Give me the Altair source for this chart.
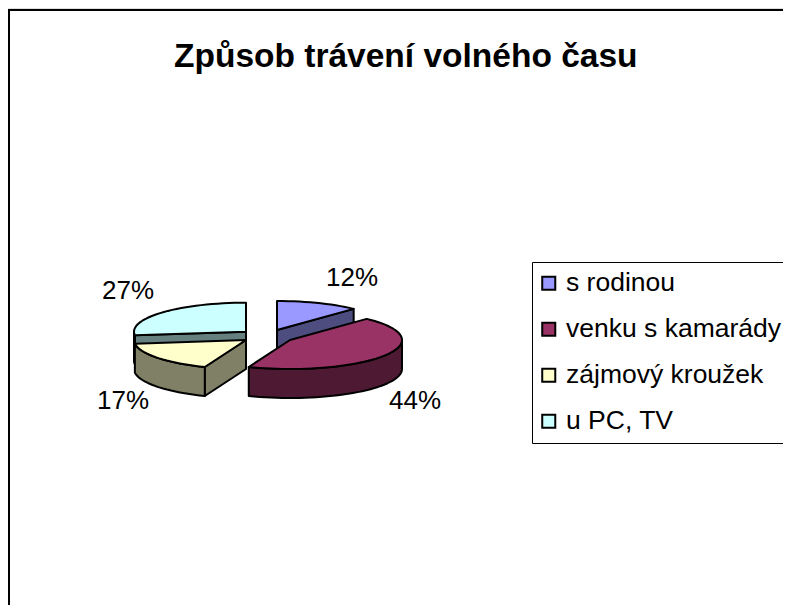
import math
import altair as alt

categories = ["s rodinou", "venku s kamarády", "zájmový kroužek", "u PC, TV"]
percent = [12, 44, 17, 27]
top_colors = ["#9999FF", "#993366", "#FFFFCC", "#CCFFFF"]
side_colors = ["#4D4D80", "#4D1933", "#808066", "#668080"]

W, H = 775, 597
OX, OY = 8, 8
RX, RY, DEPTH = 112, 29, 29
APEX = [(277, 330), (290, 340), (246, 340), (246, 331.7)]
LABEL_POS = [(352, 278), (415, 401), (123, 401), (128, 291)]
PAINT_ORDER = [0, 3, 2, 1]
SIDE_EDGE = {0: "end", 2: "start", 3: "start"}

starts, acc = [], 0
for p in percent:
    starts.append(acc)
    acc += p
ang = lambda pct: pct * 3.6


def pt(i, deg, dz=0):
    ax, ay = APEX[i]
    r = math.radians(deg)
    return [ax + RX * math.sin(r) - OX, ay - RY * math.cos(r) + dz - OY]


def arc(i, a0, a1, dz=0):
    n = max(2, int(abs(a1 - a0) / 3) + 2)
    return [pt(i, a0 + (a1 - a0) * k / (n - 1), dz) for k in range(n)]


def feature(key, ring):
    ring = ring + [ring[0]]
    return {"type": "Feature", "properties": {"key": key},
            "geometry": {"type": "Polygon", "coordinates": [ring]}}


features = []
for i in PAINT_ORDER:
    a0, a1 = ang(starts[i]), ang(starts[i] + percent[i])
    side = categories[i] + " (bok)"
    apex = [APEX[i][0] - OX, APEX[i][1] - OY]
    apex_low = [apex[0], apex[1] + DEPTH]
    if i in SIDE_EDGE:
        e = a1 if SIDE_EDGE[i] == "end" else a0
        features.append(feature(side, [apex, pt(i, e), pt(i, e, DEPTH), apex_low]))
    f0, f1 = max(a0, 90), min(a1, 270)
    if f0 < f1:
        features.append(feature(side, arc(i, f0, f1) + arc(i, f1, f0, DEPTH)))
    features.append(feature(categories[i], [apex] + arc(i, a0, a1)))

geo = alt.Data(values=features)

pie = alt.Chart(geo).mark_geoshape(stroke="black", strokeWidth=2, strokeJoin="round").encode(
    color=alt.Color(
        "properties.key:N",
        scale=alt.Scale(domain=categories + [c + " (bok)" for c in categories],
                        range=top_colors + side_colors),
        legend=alt.Legend(
            values=categories, title=None, orient="none",
            legendX=532 - OX, legendY=262 - OY,
            fillColor="white", strokeColor="black", cornerRadius=0,
            padding=8, rowPadding=19, symbolType="square", symbolSize=170,
            symbolOffset=-4.5, symbolStrokeColor="black", symbolStrokeWidth=2, symbolOpacity=1,
            labelFont="Liberation Sans", labelFontSize=26.5, labelColor="black",
            labelLimit=400, labelOffset=4,
        ),
    )
).project(type="identity", scale=1, translate=[0, 0])

labels = [
    {"t": f"{p}%", "x": LABEL_POS[i][0] - OX, "y": LABEL_POS[i][1] - OY}
    for i, p in enumerate(percent)
]
label_layer = alt.Chart(alt.Data(values=labels)).mark_text(
    font="Liberation Sans", fontSize=26, color="black", align="center", baseline="middle"
).encode(x=alt.X("x:Q", scale=None), y=alt.Y("y:Q", scale=None), text="t:N")

frame = alt.Chart(alt.Data(values=[{"a": 1}])).mark_rect(
    fill="white", stroke="black", strokeWidth=2
).encode(x=alt.value(1), x2=alt.value(W + 20), y=alt.value(2), y2=alt.value(H + 20))

chart = alt.layer(frame, pie, label_layer).properties(
    width=W, height=H,
    title=alt.TitleParams(
        "Způsob trávení volného času", font="Liberation Sans", fontSize=33.5, fontWeight="bold",
        color="black", anchor="start", frame="group", dx=166, dy=92, offset=0, baseline="alphabetic",
    ),
    padding=0,
    autosize=alt.AutoSizeParams(type="none"),
).configure_view(stroke=None).configure(background="white")

chart.save("out.html", embed_options={"renderer": "svg", "actions": False})
